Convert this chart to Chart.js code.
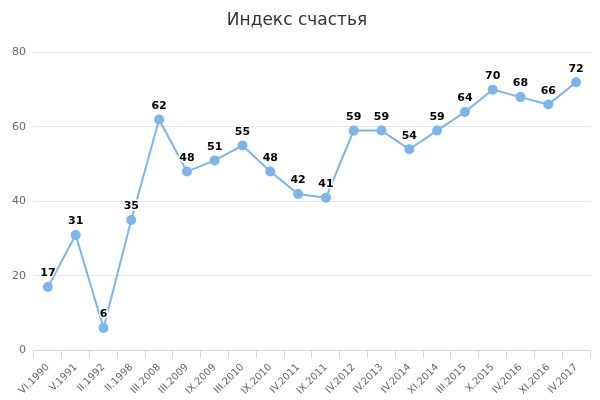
<!DOCTYPE html>
<html><head><meta charset="utf-8">
<script src="https://cdn.jsdelivr.net/npm/chart.js@4"></script>
<style>body{margin:0;background:#fff}</style>
</head><body><canvas id="c" width="600" height="400"></canvas>
<script>
const categories=["VI.1990","V.1991","II.1992","II.1998","III.2008","III.2009","IX.2009","III.2010","IX.2010","IV.2011","IX.2011","IV.2012","IV.2013","IV.2014","XI.2014","III.2015","X.2015","IV.2016","XI.2016","IV.2017"];
const values=[17,31,6,35,62,48,51,55,48,42,41,59,59,54,59,64,70,68,66,72];
const yTicks=[0,20,40,60,80];
const labelsPlugin={id:'lbl',afterDatasetsDraw(ch){const ctx=ch.ctx;const m=ch.getDatasetMeta(0);ctx.save();ctx.font='bold 11px "DejaVu Sans"';ctx.fillStyle='#000';ctx.textAlign='center';ctx.textBaseline='bottom';m.data.forEach((p,i)=>{ctx.strokeStyle='#fff';ctx.lineWidth=3;ctx.strokeText(values[i],p.x,p.y-8);ctx.fillText(values[i],p.x,p.y-8);});ctx.restore();}};
new Chart(document.getElementById('c'),{type:'line',data:{labels:categories,datasets:[{data:values,borderColor:'#7cb5ec',backgroundColor:'#7cb5ec',pointBackgroundColor:'#7cb5ec',pointBorderColor:'#7cb5ec',borderWidth:2,pointRadius:4,tension:0}]},
options:{responsive:false,animation:false,layout:{padding:{left:4,right:10,top:4,bottom:0}},
plugins:{legend:{display:false},tooltip:{enabled:false},title:{display:true,text:'Индекс счастья',color:'#333',font:{family:'"DejaVu Sans"',size:17,weight:'normal'},padding:{top:6,bottom:22}}},
scales:{y:{min:0,max:80,afterBuildTicks:a=>{a.ticks=yTicks.map(v=>({value:v}));},ticks:{color:'#666',padding:8,font:{family:'"DejaVu Sans"',size:11}},grid:{color:'#e6e6e6',drawTicks:false},border:{display:false}},
x:{offset:true,ticks:{color:'#666',maxRotation:45,minRotation:45,font:{family:'"DejaVu Sans"',size:10},autoSkip:false},grid:{display:true,drawOnChartArea:false,color:'#ccd6eb',tickLength:8,offset:true},border:{color:'#ccd6eb'}}}},
plugins:[labelsPlugin]});
</script></body></html>
